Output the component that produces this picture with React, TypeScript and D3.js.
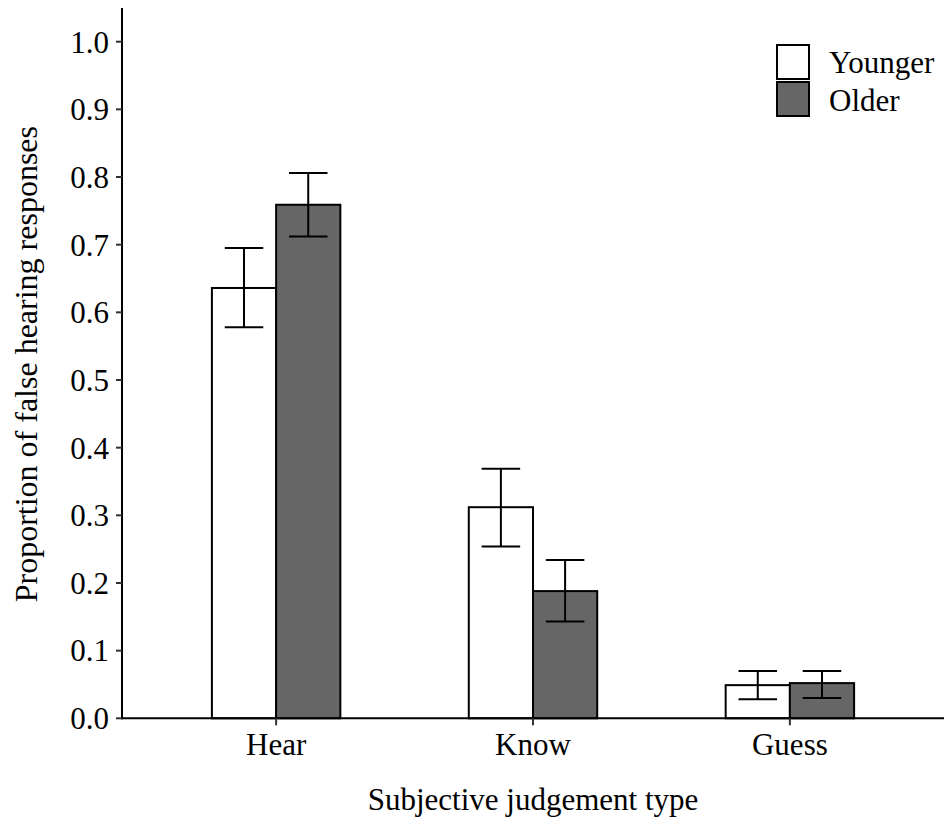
import React from "react";
import * as d3 from "d3";

const categories = ["Hear", "Know", "Guess"];
const groups = ["Younger", "Older"];
const younger = [0.636, 0.312, 0.049];
const older = [0.759, 0.188, 0.052];
const youngerLow = [0.578, 0.254, 0.028];
const youngerHigh = [0.695, 0.369, 0.070];
const olderLow = [0.712, 0.143, 0.030];
const olderHigh = [0.806, 0.234, 0.070];
const yTicks = [0, 0.1, 0.2, 0.3, 0.4, 0.5, 0.6, 0.7, 0.8, 0.9, 1.0];
const fills = ["#ffffff", "#666666"];

const W = 944;
const H = 818;
const left = 122;
const right = 944;
const y0 = 718.3;
const y1 = 41.7;
const FONT = "'Liberation Serif', 'Times New Roman', serif";
const FS = 31;

export default function App() {
  const y = d3.scaleLinear().domain([0, 1]).range([y0, y1]);
  // discrete positions 1..3 with 0.6 expansion on each side
  const xc = d3.scaleLinear().domain([0.4, 3.6]).range([left, right]);
  const unit = xc(2) - xc(1);
  const dodge = 0.5 * unit;
  const barW = dodge / 2;
  const capW = barW * 0.6;

  const series = [
    { vals: younger, lo: youngerLow, hi: youngerHigh },
    { vals: older, lo: olderLow, hi: olderHigh },
  ];

  return (
    <svg width={W} height={H} style={{ display: "block", position: "absolute", left: 0, top: 0 }}
      fontFamily={FONT}>
      <rect width={W} height={H} fill="#fff" />
      {/* bars */}
      {series.map((s, gi) =>
        categories.map((c, ci) => {
          const cx = xc(ci + 1);
          const x = cx - dodge / 2 + gi * barW;
          return (
            <rect key={`b${gi}${ci}`} x={x} y={y(s.vals[ci])} width={barW}
              height={y(0) - y(s.vals[ci])} fill={fills[gi]} stroke="#000" strokeWidth={2} />
          );
        })
      )}
      {/* error bars */}
      {series.map((s, gi) =>
        categories.map((c, ci) => {
          const cx = xc(ci + 1) - dodge / 2 + gi * barW + barW / 2;
          return (
            <g key={`e${gi}${ci}`} stroke="#000" strokeWidth={2}>
              <line x1={cx} x2={cx} y1={y(s.lo[ci])} y2={y(s.hi[ci])} />
              <line x1={cx - capW / 2} x2={cx + capW / 2} y1={y(s.hi[ci])} y2={y(s.hi[ci])} />
              <line x1={cx - capW / 2} x2={cx + capW / 2} y1={y(s.lo[ci])} y2={y(s.lo[ci])} />
            </g>
          );
        })
      )}
      {/* axes */}
      <line x1={left} x2={left} y1={8} y2={y0 + 1} stroke="#000" strokeWidth={2} />
      <line x1={left - 1} x2={right} y1={y0} y2={y0} stroke="#000" strokeWidth={2} />
      {yTicks.map((t) => (
        <g key={t}>
          <line x1={left - 6} x2={left} y1={y(t)} y2={y(t)} stroke="#333" strokeWidth={2} />
          <text x={left - 13} y={y(t)} dy="0.35em" textAnchor="end" fontSize={FS} fill="#000">
            {t.toFixed(1)}
          </text>
        </g>
      ))}
      {categories.map((c, ci) => (
        <g key={c}>
          <line x1={xc(ci + 1)} x2={xc(ci + 1)} y1={y0} y2={y0 + 7} stroke="#333" strokeWidth={2} />
          <text x={xc(ci + 1)} y={755} textAnchor="middle" fontSize={FS} fill="#000">{c}</text>
        </g>
      ))}
      <text x={(left + right) / 2} y={810} textAnchor="middle" fontSize={FS} fill="#000">
        Subjective judgement type
      </text>
      <text transform={`translate(37, ${(y0 + 8) / 2 + 1}) rotate(-90)`} textAnchor="middle"
        fontSize={32} fill="#000">
        Proportion of false hearing responses
      </text>
      {/* legend */}
      {groups.map((g, gi) => (
        <g key={g}>
          <rect x={777} y={45 + gi * 37} width={32} height={34} fill={fills[gi]} stroke="#000" strokeWidth={2} />
          <text x={829} y={73 + gi * 38} fontSize={FS} fill="#000">{g}</text>
        </g>
      ))}
    </svg>
  );
}
